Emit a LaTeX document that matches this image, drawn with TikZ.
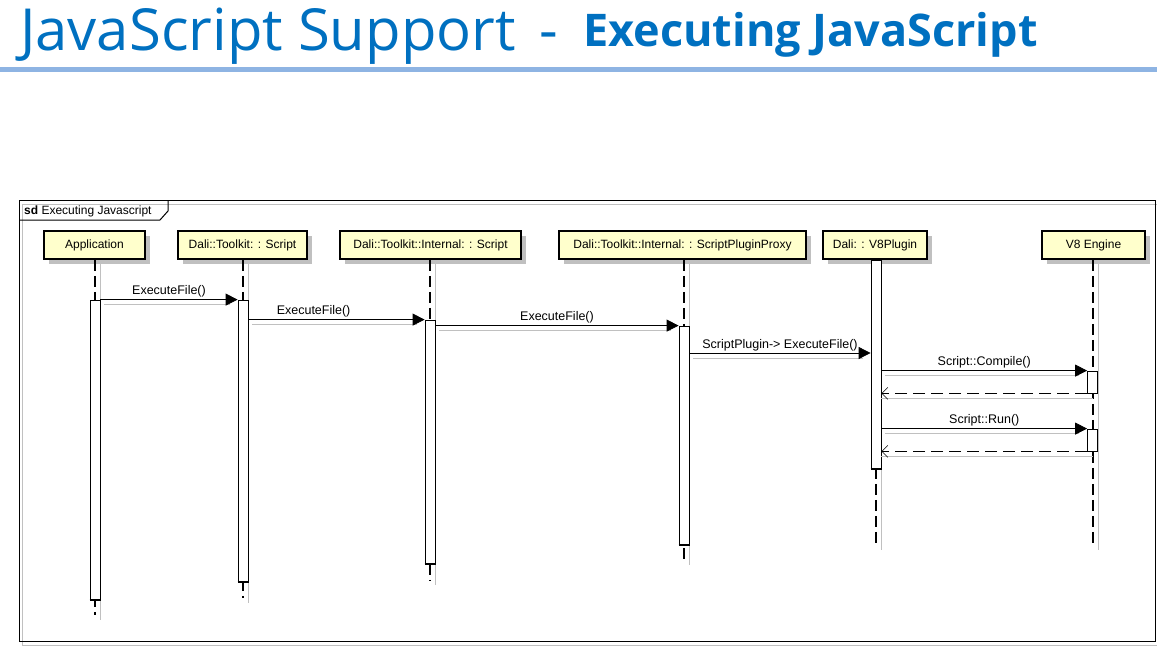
\documentclass[tikz,border=0pt]{standalone}
\usepackage{fontspec}
\setmainfont{Liberation Sans}
\newfontfamily\titlefont{Open Sans}
\usetikzlibrary{arrows.meta,shadows,calc}
\definecolor{titleblue}{HTML}{0070C0}
\definecolor{rulecol}{HTML}{8EB4E3}
\definecolor{headfill}{HTML}{FFFFCC}
\definecolor{shadegray}{HTML}{C0C0C0}
\begin{document}
\begin{tikzpicture}[x=1pt,y=-1pt,
  head/.style={draw, line width=1.6pt, fill=headfill, minimum height=28pt, inner sep=0pt,
    font=\fontsize{12}{14}\selectfont,
    drop shadow={shadow xshift=5pt, shadow yshift=-5pt, fill=shadegray, opacity=1}},
  bar/.style={draw, line width=0.8pt, fill=white, minimum width=10pt, inner sep=0pt},
  life/.style={line width=1.3pt, dash pattern=on 11pt off 5pt},
  lifeshade/.style={draw=shadegray, line width=1pt},
  msg/.style={line width=0.8pt, -{Triangle[length=12pt,width=12pt]}},
  ret/.style={line width=0.8pt, dash pattern=on 12pt off 6pt, -{Straight Barb[length=6pt,width=12pt,line width=0.6pt]}},
  mshade/.style={draw=shadegray, line width=1pt},
  lbl/.style={font=\fontsize{12.5}{14}\selectfont, inner sep=1pt, above=1pt}
]
\useasboundingbox (0,0) rectangle (1157,666);

% title
\node[anchor=base west, inner sep=0pt, text=titleblue, font=\titlefont\fontsize{58}{62}\selectfont] (t1) at (20,51) {JavaScript Support\hspace{24pt}-};
\node[anchor=base west, inner sep=0pt, text=titleblue, font=\titlefont\bfseries\fontsize{45}{50}\selectfont] (t2) at (583,47) {Executing JavaScript};
\fill[rulecol] (0,67) rectangle (1157,72);

% frame
\draw[draw=shadegray, line width=1pt] (22,204) rectangle (1157,645);
\draw[line width=1pt] (19,200) rectangle (1155,641);
\draw[line width=1pt] (19,220) -- (160,220) -- (168,211) -- (168,200);
\node[anchor=west, inner sep=0pt, font=\fontsize{12}{14}\selectfont] (sd) at (24,211.5) {\textbf{sd} Executing Javascript};

% lifeline heads
\node[head, minimum width=101pt] (app) at (94.5,245) {Application};
\node[head, minimum width=129pt] (scr) at (242.5,245) {Dali::Toolkit: : Script};
\node[head, minimum width=181pt] (int) at (430.5,245) {Dali::Toolkit::Internal: : Script};
\node[head, minimum width=247pt] (prx) at (682.5,245) {Dali::Toolkit::Internal: : ScriptPluginProxy};
\node[head, minimum width=104pt] (v8p) at (875,245) {Dali: : V8Plugin};
\node[head, minimum width=103pt] (eng) at (1093.5,245) {V8 Engine};

% lifeline ends
\coordinate (append) at (95,615);
\coordinate (scrend) at (243,598);
\coordinate (intend) at (430,580);
\coordinate (prxend) at (684,560);
\coordinate (v8pend) at (876,545);
\coordinate (engend) at (1093,545);

% lifeline shadows
\foreach \n/\x in {app/95,scr/243,int/430,prx/684,v8p/876,eng/1093}{
  \draw[lifeshade] ($(\x,264)+(5,0)$) -- ($(\n end)+(5,5)$);
}
% lifelines
\draw[life] (app.south -| append) -- (append);
\draw[life] (scr.south -| scrend) -- (scrend);
\draw[life] (int.south -| intend) -- (intend);
\draw[life] (prx.south -| prxend) -- (prxend);
\draw[life] (v8p.south -| v8pend) -- (v8pend);
\draw[life] (eng.south -| engend) -- (engend);

% activation bars
\node[bar, minimum height=300pt] (appbar) at (95,450) {};
\node[bar, minimum height=282pt] (scrbar) at (243,441) {};
\node[bar, minimum height=244pt] (intbar) at (430,442) {};
\node[bar, minimum height=219pt] (prxbar) at (684,435.5) {};
\node[bar, minimum height=209pt] (v8bar) at (876,364.5) {};
\node[bar, minimum height=22pt] (eng1) at (1092.5,382) {};
\node[bar, minimum height=22pt] (eng2) at (1092.5,440) {};
\foreach \b in {appbar,scrbar,intbar,prxbar,v8bar}{
  \draw[line width=2pt] (\b.south west) -- (\b.south east);
}

% message shadows
\draw[mshade] ($(appbar.north east)+(4,5)$) -- ($(scrbar.north west)+(-8,5)$);
\draw[mshade] ($(scrbar.east |- intbar.north)+(4,5)$) -- ($(intbar.north west)+(-8,5)$);
\draw[mshade] ($(intbar.east |- prxbar.north)+(4,5)$) -- ($(prxbar.north west)+(-8,5)$);
\draw[mshade] ($(prxbar.east |- 0,353)+(4,5)$) -- ($(v8bar.west |- 0,353)+(-8,5)$);
\draw[mshade] ($(v8bar.east |- eng1.north)+(4,5)$) -- ($(eng1.north west)+(-8,5)$);
\draw[mshade] ($(v8bar.east |- eng1.south)+(0,5)$) -- ($(eng1.south)+(0,5)$);
\draw[mshade] ($(v8bar.east |- eng2.north)+(4,5)$) -- ($(eng2.north west)+(-8,5)$);
\draw[mshade] ($(v8bar.east |- eng2.south)+(0,5)$) -- ($(eng2.south)+(0,5)$);

% messages
\draw[msg] (appbar.north east) -- node[lbl] {ExecuteFile()} (scrbar.north west);
\draw[msg] (scrbar.east |- intbar.north) -- node[lbl, pos=0.37] {ExecuteFile()} (intbar.north west);
\draw[msg] (intbar.east |- prxbar.north) -- node[lbl] {ExecuteFile()} (prxbar.north west);
\coordinate (m4) at (0,353);
\draw[msg] (prxbar.east |- m4) -- node[lbl] {ScriptPlugin-> ExecuteFile()} (v8bar.west |- m4);
\draw[msg] (v8bar.east |- eng1.north) -- node[lbl] {Script::Compile()} (eng1.north west);
\draw[ret] (eng1.south west) -- (v8bar.east |- eng1.south);
\draw[msg] (v8bar.east |- eng2.north) -- node[lbl] {Script::Run()} (eng2.north west);
\draw[ret] (eng2.south west) -- (v8bar.east |- eng2.south);
\end{tikzpicture}
\end{document}
